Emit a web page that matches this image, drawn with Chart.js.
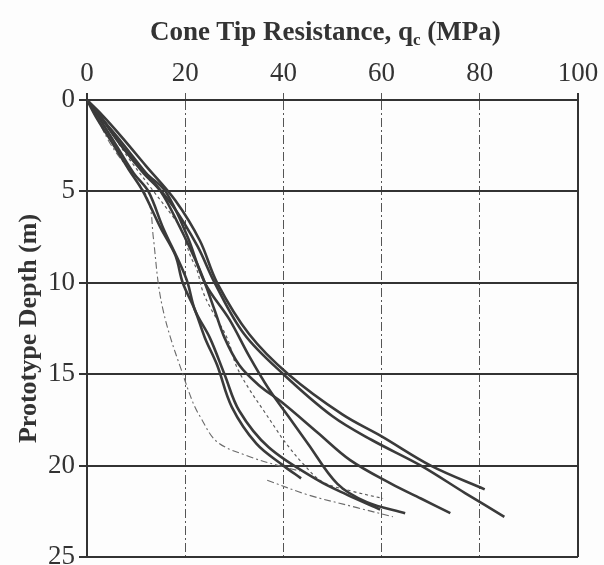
<!DOCTYPE html>
<html>
<head>
<meta charset="utf-8">
<script src="https://cdn.jsdelivr.net/npm/chart.js@4"></script>
<style>
  html,body{margin:0;padding:0;background:#fdfdfd;}
  #wrap{position:relative;width:604px;height:565px;}
  #title{position:absolute;left:150px;top:16px;font-family:'Liberation Serif','Times New Roman',serif;font-weight:bold;font-size:27px;color:#333;white-space:nowrap;line-height:30px;}
  #title sub{font-size:17px;vertical-align:-5px;line-height:0;}
</style>
</head>
<body>
<div id="wrap">
  <canvas id="c" width="604" height="565"></canvas>
  <div id="title">Cone Tip Resistance, q<sub>c</sub> (MPa)</div>
</div>
<script>
// Tick values
const xTicks = [0, 20, 40, 60, 80, 100];
const yTicks = [0, 5, 10, 15, 20, 25];

// Solid profiles: cone tip resistance (MPa) and depth (m)
const curveA_q = [0, 3, 7, 12, 18, 23, 26.5, 33, 41, 52, 60, 70, 81];
const curveA_d = [0, 0.8, 2, 3.6, 5.5, 7.7, 10, 12.8, 15, 17.2, 18.4, 20, 21.3];

const curveB_q = [0, 3, 7, 12, 17.5, 22.5, 26, 32, 40, 50, 58, 68, 77, 85];
const curveB_d = [0, 1, 2.3, 4, 5.8, 8, 10, 12.8, 15, 17.3, 18.6, 20, 21.5, 22.8];

const curveC_q = [0, 3, 7, 11.5, 15, 19, 22.5, 24, 26, 28, 31, 35, 40, 47, 53.6, 62, 68, 74];
const curveC_d = [0, 1, 2.5, 4, 5, 7, 9, 10, 11.5, 13, 14.5, 15.6, 16.6, 18.2, 19.7, 21, 21.8, 22.6];

const curveD_q = [0, 3, 7, 12, 16, 20.5, 24, 29, 33, 37, 41, 45, 51, 57, 64.8];
const curveD_d = [0, 1, 2.5, 4, 5, 7.5, 10, 12, 14, 15.8, 17.3, 18.8, 21, 22, 22.6];

const curveE_q = [0, 2.5, 6, 9.5, 12.5, 15.5, 19, 20.5, 22, 25, 28, 31, 37, 47, 53, 59.7];
const curveE_d = [0, 1, 2.5, 4, 5, 7, 9, 10, 11.5, 13, 15, 17, 19, 20.8, 21.6, 22.4];

const curveF_q = [0, 2, 5.5, 8.5, 11.4, 15, 18, 19.5, 22, 24, 26.5, 29.5, 34.5, 40, 43.6];
const curveF_d = [0, 1, 2.5, 3.8, 5, 7, 8.5, 10, 11.5, 13, 14.5, 16.8, 18.8, 20, 20.7];

// Dotted / dashed profiles
const dot1_q = [0, 2, 5, 9, 12.5, 13.5, 14.5, 15.5, 17, 19, 21.5, 23, 26.5, 33, 39, 43.4];
const dot1_d = [0, 1, 2.5, 4, 5.5, 7.5, 10, 11.5, 13, 14.6, 16.5, 17.3, 18.7, 19.5, 20, 20.3];

const dot2_q = [0, 3, 8, 13, 17, 19.3, 21, 22.4, 23.5, 25, 28.5, 30.5, 33, 36, 39, 40, 44, 48, 54, 60.3];
const dot2_d = [0, 1, 3, 4.8, 6.2, 7.1, 8.5, 9.3, 10.4, 11.3, 13, 14.6, 15.8, 17, 18.2, 18.6, 19.9, 20.9, 21.4, 21.8];

const dot3_q = [36.7, 45, 55, 62.3];
const dot3_d = [20.8, 21.6, 22.3, 22.8];

function pts(qs, ds){ return qs.map((q,i)=>({x:q, y:ds[i]})); }

const solid = {borderColor:'#3a3a3a', borderWidth:2.6, pointRadius:0, showLine:true, tension:0.35, fill:false};
const dotted = {borderColor:'#5a5a5a', borderWidth:1.2, pointRadius:0, showLine:true, tension:0.35, fill:false, borderDash:[3,3]};
const dashdot = {borderColor:'#6a6a6a', borderWidth:1.1, pointRadius:0, showLine:true, tension:0.35, fill:false, borderDash:[7,3,2,3]};

const datasets = [
  Object.assign({label:'A', data:pts(curveA_q, curveA_d)}, solid),
  Object.assign({label:'B', data:pts(curveB_q, curveB_d)}, solid),
  Object.assign({label:'C', data:pts(curveC_q, curveC_d)}, solid),
  Object.assign({label:'D', data:pts(curveD_q, curveD_d)}, solid),
  Object.assign({label:'E', data:pts(curveE_q, curveE_d)}, solid),
  Object.assign({label:'F', data:pts(curveF_q, curveF_d)}, solid),
  Object.assign({label:'G', data:pts(dot1_q, dot1_d)}, dashdot),
  Object.assign({label:'H', data:pts(dot2_q, dot2_d)}, dotted),
  Object.assign({label:'I', data:pts(dot3_q, dot3_d)}, dashdot)
];

const serif = "'Liberation Serif','Times New Roman',serif";

new Chart(document.getElementById('c'), {
  type: 'scatter',
  data: { datasets },
  options: {
    responsive: false,
    animation: false,
    events: [],
    layout: { padding: { left: 10, right: 26, top: 50, bottom: 8 } },
    plugins: { legend: { display: false }, tooltip: { enabled: false }, title: { display: false } },
    scales: {
      x: {
        type: 'linear',
        position: 'top',
        min: 0, max: 100,
        afterBuildTicks: s => { s.ticks = xTicks.map(v => ({value: v})); },
        afterFit: s => { s.height = 50; s.paddingLeft = 0; s.paddingRight = 0; },
        ticks: { font: { family: serif, size: 27 }, color: '#333', padding: 3 },
        grid: {
          color: ctx => (ctx.tick && (ctx.tick.value === 0 || ctx.tick.value === 100)) ? '#333' : '#555',
          lineWidth: ctx => (ctx.tick && (ctx.tick.value === 0 || ctx.tick.value === 100)) ? 2 : 1,
          tickLength: 7,
          drawTicks: true
        },
        border: {
          display: true, color: '#333', width: 2,
          dash: ctx => (ctx.tick && (ctx.tick.value === 0 || ctx.tick.value === 100)) ? [] : [9, 3, 2, 3]
        }
      },
      y: {
        type: 'linear',
        reverse: true,
        min: 0, max: 25,
        afterBuildTicks: s => { s.ticks = yTicks.map(v => ({value: v})); },
        afterFit: s => { s.width = 77; s.paddingTop = 0; s.paddingBottom = 0; },
        ticks: { font: { family: serif, size: 27, lineHeight: 1 }, color: '#333', padding: 4 },
        grid: { color: '#333', lineWidth: 2, tickLength: 8 },
        border: { display: true, color: '#333', width: 2 },
        title: { display: true, text: 'Prototype Depth (m)', font: { family: serif, size: 26, weight: 'bold' }, color: '#333', padding: { top: 4, bottom: 2 } }
      }
    }
  }
});
</script>
</body>
</html>
